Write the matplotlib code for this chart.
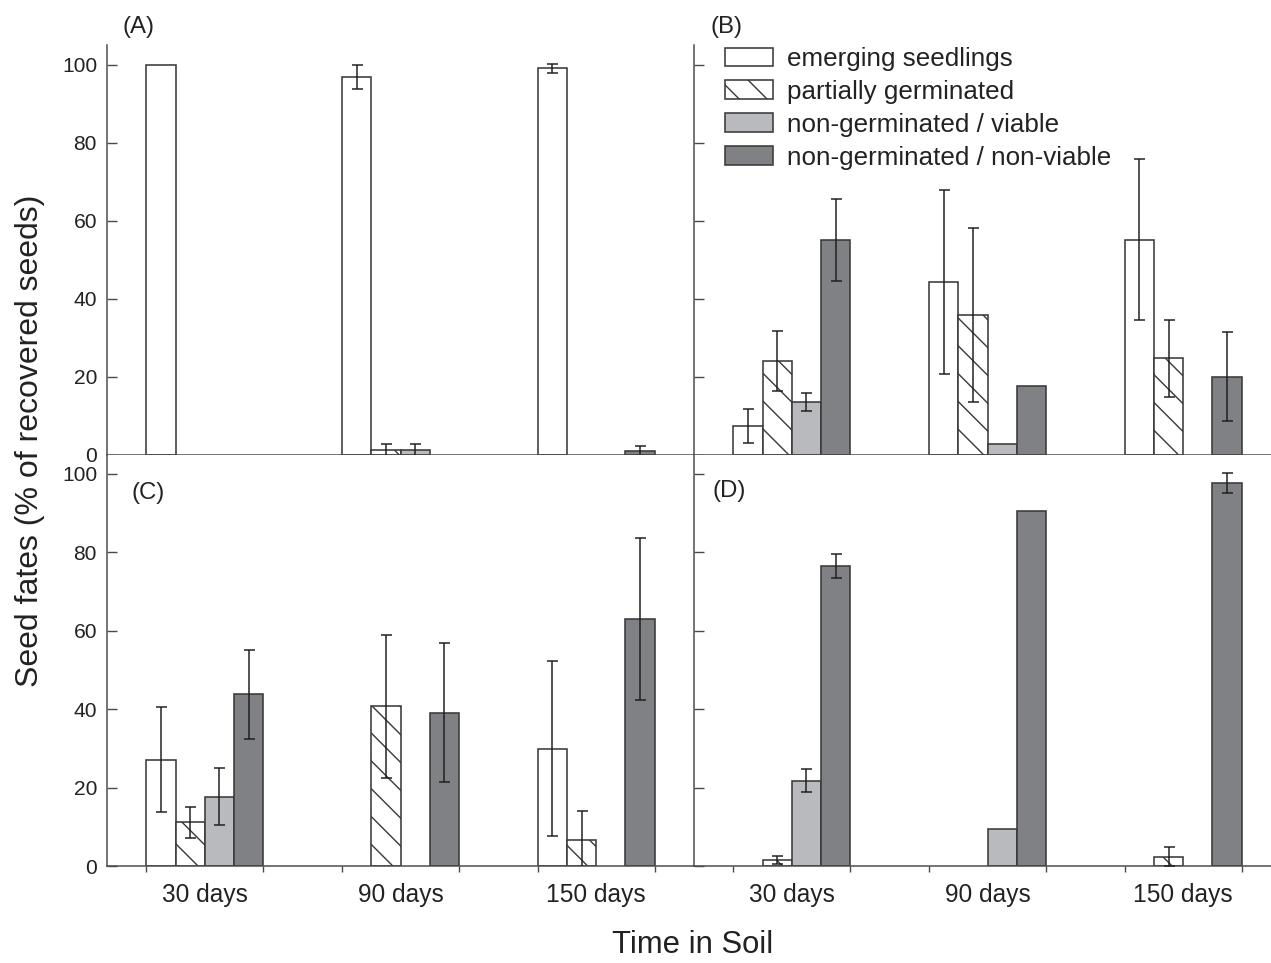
import numpy as np
import matplotlib
matplotlib.use('Agg')
from matplotlib import pyplot as plt
from matplotlib.patches import Patch

DPI = 167
W, H = 1271, 963


def px(v):
    # pixel size -> points at this dpi
    return v * 72.0 / DPI


plt.rcParams['font.family'] = ['Liberation Sans', 'DejaVu Sans']
plt.rcParams['hatch.linewidth'] = px(1.4)

days = ['30 days', '90 days', '150 days']
fates = ['emerging seedlings', 'partially germinated',
         'non-germinated / viable', 'non-germinated / non-viable']

# rows: emerging, partial, viable, non-viable ; columns: 30, 90, 150 days
mean_A = [[100, 96.9, 99.0], [0, 1.2, 0], [0, 1.2, 0], [0, 0, 1.0]]
err_A = [[0, 3.1, 1.2], [0, 1.5, 0], [0, 1.5, 0], [0, 0, 1.3]]

mean_B = [[7.4, 44.3, 55.1], [24.1, 35.8, 24.8], [13.6, 2.9, 0], [55.0, 17.6, 20.1]]
err_B = [[4.3, 23.5, 20.6], [7.7, 22.3, 9.9], [2.4, 0, 0], [10.5, 0, 11.3]]

mean_C = [[27.1, 0, 29.9], [11.1, 40.7, 6.7], [17.7, 0, 0], [43.8, 39.1, 63.0]]
err_C = [[13.4, 0, 22.3], [4.0, 18.2, 7.4], [7.2, 0, 0], [11.4, 17.8, 20.7]]

mean_D = [[0, 0, 0], [1.5, 0, 2.4], [21.8, 9.4, 0], [76.5, 90.5, 97.6]]
err_D = [[0, 0, 0], [1.0, 0, 2.5], [2.9, 0, 0], [3.0, 0, 2.6]]

face = ['white', 'white', '#b9babd', '#808185']
hatches = [None, '\\\\', None, None]
edge = '#3a3a3a'
axcol = '#4a4a4a'

fig = plt.figure(figsize=(W / DPI, H / DPI), dpi=DPI)


def rect(x0, x1, ytop, ybot):
    return [x0 / W, 1 - ybot / H, (x1 - x0) / W, (ybot - ytop) / H]


panels = [
    ('(A)', mean_A, err_A, rect(107, 694, 45, 455), 105.0, True, False),
    ('(B)', mean_B, err_B, rect(694, 1281, 45, 455), 105.0, False, False),
    ('(C)', mean_C, err_C, rect(107, 694, 455, 866), 104.8, True, True),
    ('(D)', mean_D, err_D, rect(694, 1281, 455, 866), 104.8, False, True),
]

centers = np.arange(3)
w = 0.1495
edges = np.sort(np.concatenate([centers - 2 * w, centers + 2 * w]))

axes = []
for name, means, errs, pos, ytop, left, bottom in panels:
    ax = fig.add_axes(pos)
    for k in range(4):
        x = centers + (k - 1.5) * w
        v = np.array(means[k], dtype=float)
        e = np.array(errs[k], dtype=float)
        m = v > 0
        ax.bar(x[m], v[m], w, color=face[k], edgecolor=edge, hatch=hatches[k],
               linewidth=px(1.6), zorder=2)
        m2 = e > 0
        if m2.any():
            ax.errorbar(x[m2], v[m2], yerr=e[m2], fmt='none', ecolor='#1e1e1e',
                        elinewidth=px(1.5), capsize=px(5.5), capthick=px(1.5),
                        zorder=3)
    ax.set_xlim(-0.5, 2.5)
    ax.set_ylim(0, ytop)
    for s in ['top', 'right']:
        ax.spines[s].set_visible(False)
    for s in ['left', 'bottom']:
        ax.spines[s].set_color(axcol)
        ax.spines[s].set_linewidth(px(1.5))
    ax.set_xticks(edges)
    ax.tick_params(axis='x', which='major', direction='out', length=px(6),
                   width=px(1.4), color=axcol, labelbottom=False)
    ax.set_xticks(centers, minor=True)
    if bottom:
        ax.set_xticklabels(days, minor=True)
    ax.tick_params(axis='x', which='minor', length=0, pad=px(17),
                   labelsize=px(24.5), labelcolor='#222222')
    ax.set_yticks(np.arange(0, 101, 20))
    ax.tick_params(axis='y', direction='in', length=px(10), width=px(1.4),
                   color=axcol, pad=px(10), labelsize=px(21),
                   labelcolor='#222222', labelleft=left)
    axes.append(ax)

fig.text(139 / W, 1 - 27 / H, '(A)', ha='center', va='center', fontsize=px(24), color='#222222')
fig.text(727 / W, 1 - 27 / H, '(B)', ha='center', va='center', fontsize=px(24), color='#222222')
fig.text(148 / W, 1 - 493 / H, '(C)', ha='center', va='center', fontsize=px(24), color='#222222')
fig.text(729 / W, 1 - 491 / H, '(D)', ha='center', va='center', fontsize=px(24), color='#222222')

fig.text(30 / W, 1 - 441 / H, 'Seed fates (% of recovered seeds)', rotation=90,
         ha='center', va='center', fontsize=px(32), color='#222222')
fig.text(693 / W, 1 - 945 / H, 'Time in Soil', ha='center', va='center',
         fontsize=px(31), color='#222222')

handles = [Patch(facecolor=face[k], edgecolor=edge, hatch=hatches[k],
                 linewidth=px(1.6)) for k in range(4)]
axes[1].legend(handles, fates, loc='upper left',
               bbox_to_anchor=(725 / W, 1 - 47 / H), bbox_transform=fig.transFigure,
               frameon=False, borderpad=0, borderaxespad=0,
               handlelength=48 / 26, handleheight=19 / 26, handletextpad=14 / 26,
               labelspacing=0.34, fontsize=px(26), labelcolor='#222222')

fig.savefig('out.png', dpi=DPI)
